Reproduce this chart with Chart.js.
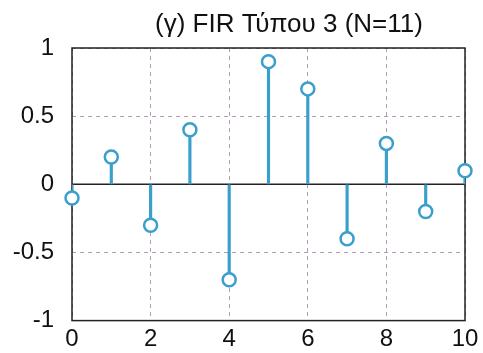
<!DOCTYPE html>
<html>
<head>
<meta charset="utf-8">
<script src="https://cdn.jsdelivr.net/npm/chart.js@4/dist/chart.umd.min.js"></script>
<style>
html,body{margin:0;padding:0;background:#fff}
#wrap{width:483px;height:353px}
</style>
</head>
<body>
<div id="wrap"><canvas id="c"></canvas></div>
<script>
const titleText = "(γ) FIR Τύπου 3 (N=11)"
const n = [0,1,2,3,4,5,6,7,8,9,10]
const h = [-0.1,0.2,-0.3,0.4,-0.7,0.9,0.7,-0.4,0.3,-0.2,0.1]
const xTicks = [0,2,4,6,8,10]
const yTicks = [-1,-0.5,0,0.5,1]

const stemColor = "#3a9fcb"
const gridColor = "#b49cb6"
const fontFam = "Liberation Sans, Arial, sans-serif"

const pts = n.map((v,i)=>({x:v,y:h[i]}))

// box round the plot area + title
const frame = {
id:"frame",
beforeDatasetsDraw(chart){
const a = chart.chartArea
const ctx = chart.ctx
ctx.save()
ctx.strokeStyle = "#222"
ctx.lineWidth = 1.5
ctx.strokeRect(a.left,a.top,a.right-a.left,a.bottom-a.top)
ctx.fillStyle = "#111"
ctx.font = "26px "+fontFam
ctx.textAlign = "center"
ctx.textBaseline = "middle"
ctx.fillText(titleText,289,25)
ctx.restore()
}
}

new Chart(document.getElementById("c"),{
data:{
datasets:[
{
type:"line",
data:[{x:n[0],y:0},{x:n[n.length-1],y:0}],
borderColor:"#222",
borderWidth:1.5,
pointRadius:0,
order:3
},
{
type:"bar",
data:pts,
backgroundColor:stemColor,
barThickness:2.5,
order:2
},
{
type:"scatter",
data:pts,
clip:false,
pointRadius:6.5,
pointBorderWidth:2.5,
pointBorderColor:stemColor,
pointBackgroundColor:"#fff",
order:1
}
]
},
options:{
responsive:true,
maintainAspectRatio:false,
animation:false,
layout:{padding:{left:0,right:18,top:48,bottom:0}},
plugins:{
legend:{display:false},
tooltip:{enabled:false}
},
scales:{
x:{
type:"linear",
min:0,max:10,
offset:false,
afterBuildTicks(s){s.ticks = xTicks.map(v=>({value:v}))},
afterFit(s){s.height = 30},
grid:{color:gridColor,lineWidth:1,drawTicks:false,offset:false},
border:{display:false,dash:[4,4]},
ticks:{color:"#111",padding:4,font:{family:fontFam,size:24},callback:v=>String(v)}
},
y:{
min:-1,max:1,
afterBuildTicks(s){s.ticks = yTicks.map(v=>({value:v}))},
afterFit(s){s.width = 72},
grid:{color:gridColor,lineWidth:1,drawTicks:false},
border:{display:false,dash:[4,4]},
ticks:{color:"#111",padding:18,font:{family:fontFam,size:24},callback:v=>String(v)}
}
}
},
plugins:[frame]
})
</script>
</body>
</html>
